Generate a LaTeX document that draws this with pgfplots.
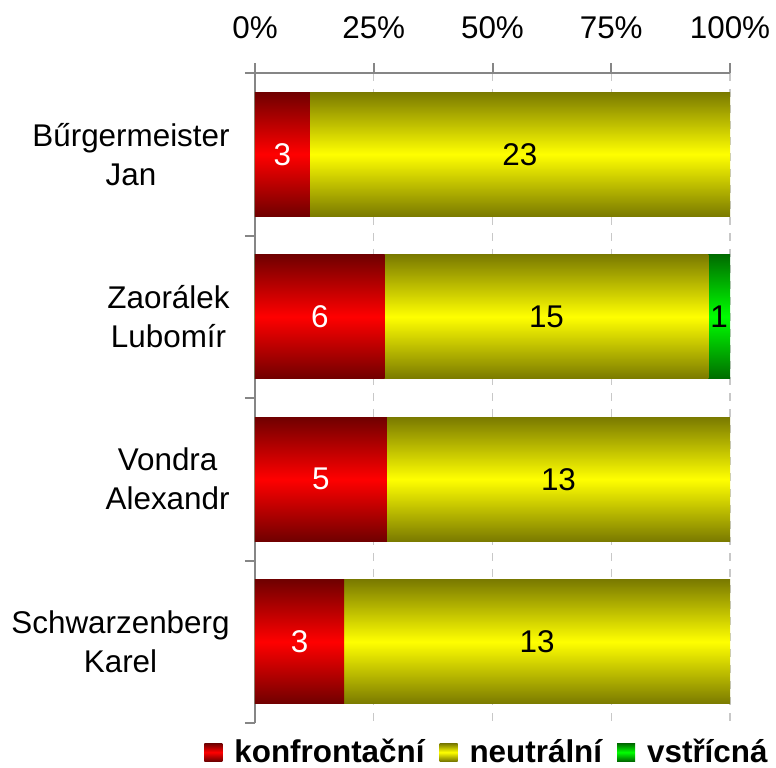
\documentclass[border=0pt]{standalone}
\usepackage{pgfplots}
\pgfplotsset{compat=1.18}
\usepackage{fontspec}
\setmainfont{Liberation Sans}
\definecolor{axgray}{RGB}{134,134,134}
\definecolor{gridgray}{RGB}{200,200,200}
\definecolor{dred}{RGB}{112,0,0}
\definecolor{dyel}{RGB}{122,122,0}
\definecolor{dgrn}{RGB}{0,108,0}

\begin{document}
\begin{tikzpicture}
\pgfplotsset{
  seg/.style={xbar, bar width=62pt, bar shift=0pt, draw=none, forget plot},
  redbar/.style={top color=dred, bottom color=dred, middle color=red},
  yelbar/.style={top color=dyel, bottom color=dyel, middle color=yellow},
  grnbar/.style={top color=dgrn, bottom color=dgrn, middle color=green},
  lab/.style={only marks, mark=*, mark size=0pt, mark options={draw=none, fill=none},
    nodes near coords, point meta=explicit symbolic, forget plot,
    every node near coord/.append style={anchor=center, text=#1, font=\fontsize{15.7}{18}\selectfont}},
}
\begin{axis}[scale only axis, width=237.5pt, height=325pt,
  xmin=0, xmax=100, ymin=-0.5, ymax=3.5, y dir=reverse,
  at={(0,0)}, anchor=south west,
  /pgf/number format/assume math mode=true,
  axis x line*=top, axis y line*=left,
  axis line style={axgray, line width=1pt},
  xtick={0,25,50,75,100},
  xticklabel={\pgfmathprintnumber{\tick}\%},
  xticklabel style={font=\fontsize{15.7}{18}\selectfont, inner sep=0pt, yshift=12pt},
  ytick={-0.5,0.5,1.5,2.5,3.5}, yticklabels={},
  extra y ticks={0,1,2,3},
  extra y tick labels={{Bűrgermeister\\Jan},{Zaorálek\\Lubomír},{Vondra\\Alexandr},{Schwarzenberg\\Karel}},
  extra y tick style={major tick length=0pt,
    yticklabel style={align=center, font=\fontsize{15.7}{19.5}\selectfont, inner sep=0pt, xshift=-12.5pt}},
  tick align=outside,
  major tick length=5pt,
  tick style={axgray, line width=1pt},
  xmajorgrids,
  major x grid style={gridgray, line width=0.6pt, dash pattern=on 4pt off 4pt},
  legend style={at={(0.5,-0.045)}, anchor=center, xshift=-0.25pt, draw=none, fill=none,
    legend columns=3,
    font=\bfseries\fontsize{15.7}{18}\selectfont,
    nodes={inner xsep=6pt, inner ysep=1pt},
    /tikz/every even column/.append style={column sep=1.5pt}},
  legend image code/.code={\draw[#1, draw=none] (0pt,-4.4pt) rectangle (9pt,4.4pt);},
]
% row 0: Bűrgermeister Jan (3 / 23 / 0)
\addplot[seg, yelbar] coordinates {(100,0)};
\addplot[seg, redbar] coordinates {(11.538,0)};
% row 1: Zaorálek Lubomír (6 / 15 / 1)
\addplot[seg, grnbar] coordinates {(100,1)};
\addplot[seg, yelbar] coordinates {(95.455,1)};
\addplot[seg, redbar] coordinates {(27.273,1)};
% row 2: Vondra Alexandr (5 / 13 / 0)
\addplot[seg, yelbar] coordinates {(100,2)};
\addplot[seg, redbar] coordinates {(27.778,2)};
% row 3: Schwarzenberg Karel (3 / 13 / 0)
\addplot[seg, yelbar] coordinates {(100,3)};
\addplot[seg, redbar] coordinates {(18.75,3)};
% value labels at segment centres
\addplot[lab=white] table[x=x, y=y, meta=lab] {
x y lab
5.769 0 3
13.636 1 6
13.889 2 5
9.375 3 3
};
\addplot[lab=black] table[x=x, y=y, meta=lab] {
x y lab
55.769 0 23
61.364 1 15
97.727 1 1
63.889 2 13
59.375 3 13
};
\addlegendimage{redbar}
\addlegendentry{konfrontační}
\addlegendimage{yelbar}
\addlegendentry{neutrální}
\addlegendimage{grnbar}
\addlegendentry{vstřícná}
\end{axis}
\pgfresetboundingbox
\useasboundingbox (-127.5pt,-22pt) rectangle (260.5pt,361.5pt);
\end{tikzpicture}
\end{document}
